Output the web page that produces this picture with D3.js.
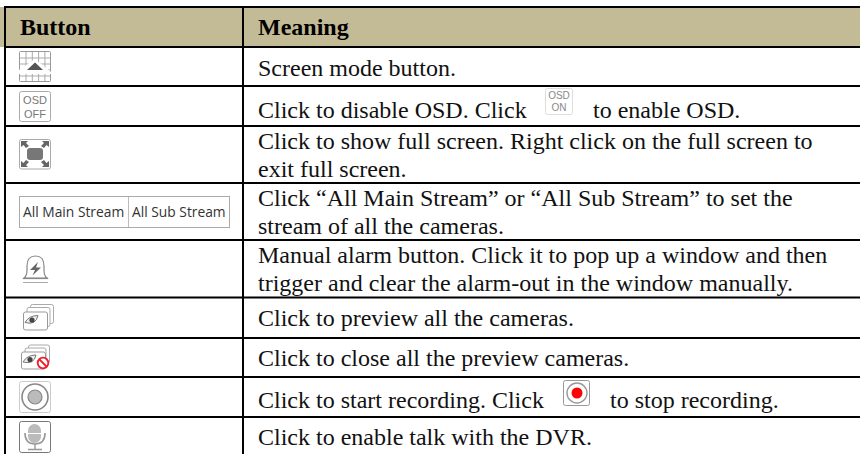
<!DOCTYPE html>
<html>
<head>
<meta charset="utf-8">
<script src="https://cdn.jsdelivr.net/npm/d3@7"></script>
<style>
  html, body { margin: 0; padding: 0; background: #fff; overflow: hidden; }
  svg { display: block; }
</style>
</head>
<body>
<div id="table"></div>
<script>
// table content
const headers = ["Button", "Meaning"];
const meanings = [
  [["Screen mode button."]],
  [["Click to disable OSD. Click", "to enable OSD."]],
  [["Click to show full screen. Right click on the full screen to"], ["exit full screen."]],
  [["Click “All Main Stream” or “All Sub Stream” to set the"], ["stream of all the cameras."]],
  [["Manual alarm button. Click it to pop up a window and then"], ["trigger and clear the alarm-out in the window manually."]],
  [["Click to preview all the cameras."]],
  [["Click to close all the preview cameras."]],
  [["Click to start recording. Click", "to stop recording."]],
  [["Click to enable talk with the DVR."]]
];
const icons = ["grid", "osdOff", "full", "streams", "alarm", "stack", "stackOff", "record", "mic"];

// layout of the table
const width = 860, height = 454;
const rowLines = [7, 47, 86, 126, 183, 240, 297.5, 338, 377, 417];
const columnLines = [5, 243];
const textX = 258;
const firstBaseline = [75.5, 118, 149, 206, 263, 326, 366, 408, 445];
const lineGap = 28;
const secondSegmentX = { 1: 593, 7: 610 };

const svg = d3.select("#table").append("svg")
  .attr("width", width)
  .attr("height", height);

// header band
svg.append("rect")
  .attr("x", 0).attr("y", rowLines[0])
  .attr("width", width).attr("height", rowLines[1] - rowLines[0])
  .attr("fill", "#c3bb96");

// grid lines
svg.selectAll(".hline")
  .data(rowLines)
  .join("line")
    .attr("x1", 4).attr("x2", width)
    .attr("y1", d => d).attr("y2", d => d)
    .attr("stroke", "#000").attr("stroke-width", 2);

svg.selectAll(".vline")
  .data(columnLines)
  .join("line")
    .attr("x1", d => d).attr("x2", d => d)
    .attr("y1", 6).attr("y2", height)
    .attr("stroke", "#000").attr("stroke-width", 2);

const serif = "'Liberation Serif', 'Times New Roman', serif";
const sans = "'Open Sans', 'Noto Sans', sans-serif";
const smallSans = "'Liberation Sans', Arial, sans-serif";

// header text
svg.selectAll(".head")
  .data(headers)
  .join("text")
    .attr("x", (d, i) => i == 0 ? 20 : textX)
    .attr("y", 35)
    .attr("font-family", serif)
    .attr("font-weight", "bold")
    .attr("font-size", 24)
    .text(d => d);

// meaning text
meanings.forEach((lines, r) => {
  lines.forEach((segments, l) => {
    segments.forEach((s, k) => {
      svg.append("text")
        .attr("x", k == 0 ? textX : secondSegmentX[r])
        .attr("y", firstBaseline[r] + l * lineGap)
        .attr("font-family", serif)
        .attr("font-size", 24)
        .attr("fill", "#111")
        .text(s);
    });
  });
});

// small helpers for the button pictures
function box(g, x, y, w, h, stroke) {
  return g.append("rect")
    .attr("x", x).attr("y", y)
    .attr("width", w).attr("height", h)
    .attr("rx", 2)
    .attr("fill", "#fff")
    .attr("stroke", stroke || "#aaa");
}

function path(g, d, fill, stroke, sw) {
  return g.append("path")
    .attr("d", d)
    .attr("fill", fill || "none")
    .attr("stroke", stroke || "none")
    .attr("stroke-width", sw || 1);
}

function label(g, x, y, size, txt, fill, anchor, family) {
  return g.append("text")
    .attr("x", x).attr("y", y)
    .attr("font-family", family || smallSans)
    .attr("font-size", size)
    .attr("fill", fill)
    .attr("text-anchor", anchor || "middle")
    .text(txt);
}

function eye(g, cx, cy) {
  path(g, `M${cx - 7} ${cy + 2} Q${cx - 3} ${cy - 5} ${cx + 6} ${cy - 5} Q${cx + 4} ${cy + 5} ${cx - 7} ${cy + 2}Z`, "#eee", "#777", 1);
  g.append("circle").attr("cx", cx).attr("cy", cy - 0.5).attr("r", 2.6).attr("fill", "#444");
}

const draw = {
  grid(g) {
    box(g, 19.5, 51.5, 31, 30, "#999").attr("rx", 1);
    d3.range(26, 50, 6.3).forEach(x => {
      path(g, `M${x} 52V81`, null, "#aaa");
    });
    [58, 64, 70, 76].forEach(y => {
      path(g, `M20 ${y}H50`, null, "#aaa");
    });
    path(g, "M19 70L35 59L51 72V74H19Z", "#fff");
    path(g, "M27 70L35 62.5L43 70Z", "#555");
  },
  osdOff(g) {
    box(g, 19.5, 91.5, 31, 30);
    label(g, 35, 104, 11, "OSD", "#777");
    label(g, 35, 117.5, 11, "OFF", "#777");
  },
  full(g) {
    box(g, 19.5, 139.5, 31, 29.5);
    g.append("rect").attr("x", 27).attr("y", 148).attr("width", 16).attr("height", 12).attr("rx", 3).attr("fill", "#777");
    path(g, "M21 141H28L26 143L29 146L26 148L23.5 145L21 147Z", "#666");
    path(g, "M49 141H42L44 143L41 146L44 148L46.5 145L49 147Z", "#666");
    path(g, "M21 167H28L26 165L29 162L26 160L23.5 163L21 161Z", "#666");
    path(g, "M49 167H42L44 165L41 162L44 160L46.5 163L49 161Z", "#666");
  },
  streams(g) {
    g.append("rect")
      .attr("x", 19.5).attr("y", 196.5)
      .attr("width", 210).attr("height", 31)
      .attr("fill", "#fff").attr("stroke", "#aaa");
    path(g, "M128.5 197V227", null, "#bbb");
    label(g, 23, 217, 13.8, "All Main Stream", "#333", "start", sans);
    label(g, 132, 217, 13.8, "All Sub Stream", "#333", "start", sans);
  },
  alarm(g) {
    path(g, "M24 278Q27 276 27 270V266Q27 256 35.5 256Q44 256 44 266V270Q44 276 47 278Z", "#fff", "#888", 1.2);
    path(g, "M23 278.5H48", null, "#888", 1.2);
    path(g, "M23 282.5H48", null, "#aaa", 1);
    path(g, "M38 262L30 270H35L32.5 275.5L41 267.5H36Z", "#666");
  },
  stack(g) {
    box(g, 30.5, 304.5, 23, 19, "#aaa");
    box(g, 27, 307.5, 23, 19, "#aaa");
    box(g, 23.5, 312, 24, 18, "#999");
    eye(g, 32, 320.5);
  },
  stackOff(g) {
    box(g, 28.5, 345, 21, 18, "#aaa");
    box(g, 25, 348, 21, 18, "#aaa");
    box(g, 21.5, 352, 24, 17, "#999");
    eye(g, 30, 360);
    g.append("circle").attr("cx", 43).attr("cy", 363).attr("r", 5.3).attr("fill", "#fff").attr("stroke", "#f01c2c").attr("stroke-width", 1.8);
    path(g, "M39.5 359.5L46.5 366.5", null, "#f01c2c", 1.8);
  },
  record(g) {
    box(g, 19.5, 381.5, 31, 31, "#ccc");
    g.append("circle").attr("cx", 35).attr("cy", 397).attr("r", 13).attr("fill", "#fff").attr("stroke", "#888").attr("stroke-width", 1.6);
    g.append("circle").attr("cx", 35).attr("cy", 397).attr("r", 7).attr("fill", "#bbb").attr("stroke", "#888").attr("stroke-width", 1.2);
  },
  mic(g) {
    box(g, 19.5, 421.5, 31, 31, "#777");
    g.append("rect").attr("x", 28).attr("y", 424).attr("width", 13).attr("height", 19).attr("rx", 6.5).attr("fill", "#bbb");
    path(g, "M28 433.5H41", null, "#fff", 1);
    path(g, "M25 433Q25 444 35 444Q45 444 45 433", null, "#999", 1.6);
    path(g, "M35 444V449M28 449.5H42", null, "#999", 1.4);
  }
};

icons.forEach(name => draw[name](svg.append("g").attr("class", name)));

// the two small pictures inside the running text
const inlineOn = svg.append("g");
box(inlineOn, 545.5, 88.5, 27, 26, "#ddd");
label(inlineOn, 559, 98.5, 10, "OSD", "#888");
label(inlineOn, 559, 110.5, 10, "ON", "#888");

const inlineRec = svg.append("g");
box(inlineRec, 563.5, 380.5, 26, 25, "#999");
inlineRec.append("circle").attr("cx", 577).attr("cy", 393).attr("r", 10).attr("fill", "#fff").attr("stroke", "#999").attr("stroke-width", 1.4);
inlineRec.append("circle").attr("cx", 577).attr("cy", 393).attr("r", 5.5).attr("fill", "#f00");
</script>
</body>
</html>
